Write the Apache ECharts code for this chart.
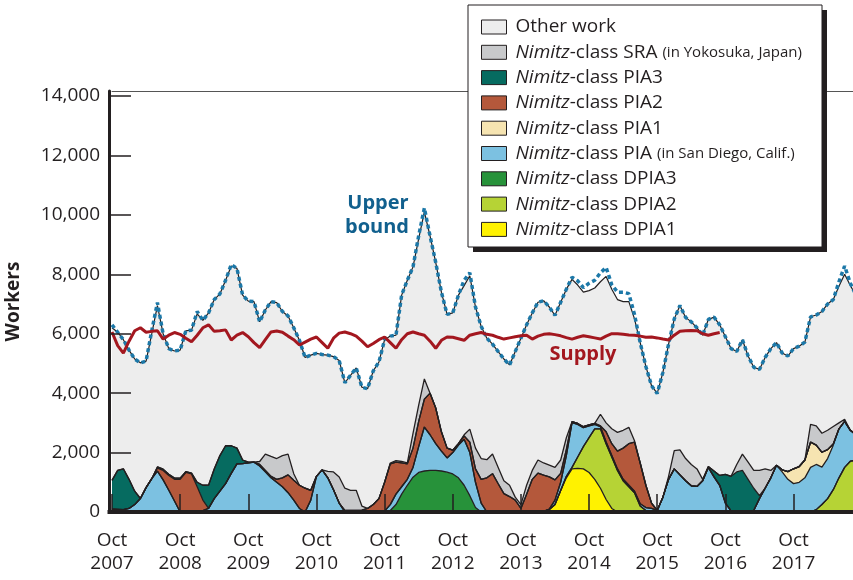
<!DOCTYPE html>
<html><head><meta charset="utf-8">
<script src="https://cdn.jsdelivr.net/npm/echarts@6/dist/echarts.min.js"></script>
<style>html,body{margin:0;padding:0;background:#fff}#c{width:853px;height:580px}</style>
</head><body><div id="c"></div>
<script>
const FONT = '"Open Sans", "Noto Sans", sans-serif';
const INK = '#231f20';

// months Oct 2007 .. Sep 2018 (labels only)
const monthNames = ['Oct','Nov','Dec','Jan','Feb','Mar','Apr','May','Jun','Jul','Aug','Sep'];
const firstFiscalYear = 2007;
const categories = [];
for (let y = 0; y < 11; y++) for (let k = 0; k < 12; k++)
  categories.push(monthNames[k] + ' ' + (firstFiscalYear + y + (k >= 3 ? 1 : 0)));
const yTickValues = [0, 2000, 4000, 6000, 8000, 10000, 12000, 14000];

// total demand (top of "Other work")
const totalDemand = [
6200,6050,5800,5450,5150,5020,5080,6000,6950,6000,5500,5420,
5450,6100,6120,6670,6450,6700,7150,7340,7800,8280,8200,7300,
7100,7080,6400,6800,7080,7050,6750,6600,6200,5780,5200,5280,
5340,5300,5280,5230,5100,4350,4600,4850,4200,4150,4750,5050,
5800,5920,5950,7300,7800,8250,9200,10100,9290,8400,7400,6650,
6700,7300,7620,7950,6900,6250,5850,5650,5400,5150,4950,5400,
5850,6300,6700,7060,7110,6900,6620,7060,7500,7830,7640,7400,
7450,7540,7750,7930,7500,7150,7080,7080,6500,5700,4900,4250,
3990,4700,5650,6500,6950,6550,6400,6200,5950,6480,6560,6300,
5900,5500,5400,5800,5250,4870,4800,5200,5500,5700,5350,5250,
5500,5580,5720,6570,6630,6750,7000,7150,7600,8000,7620,7300];

const upperBound = [
6300,6050,5800,5450,5150,5020,5080,6100,7050,6000,5500,5420,
5450,6100,6120,6750,6450,6700,7150,7340,7800,8330,8200,7300,
7100,7080,6400,6800,7080,7050,6750,6600,6200,5780,5200,5280,
5340,5300,5280,5230,5100,4350,4600,4850,4200,4150,4750,5050,
5800,5920,5950,7300,7800,8250,9300,10230,9290,8400,7400,6650,
6700,7300,7800,8050,6900,6250,5850,5650,5400,5150,4950,5400,
5850,6300,6700,7060,7110,6900,6620,7060,7500,7900,7780,7550,
7700,7800,8050,8230,7650,7400,7400,7350,6650,5700,4900,4250,
3990,4700,5650,6500,6950,6550,6400,6200,5950,6480,6560,6300,
5900,5500,5400,5800,5250,4870,4800,5200,5500,5700,5350,5250,
5500,5580,5720,6570,6630,6750,7000,7150,7750,8280,7700,7300];

const supply = [
6060,5600,5350,5750,6100,6200,6050,6080,6100,5820,5950,6040,
5980,5850,5730,5950,6200,6300,6080,6100,6130,5790,5950,6040,
5900,5700,5530,5800,6060,6090,6050,5920,5800,5620,5720,5820,
5890,5700,5510,5850,6020,6060,6000,5920,5750,5560,5670,5800,
5890,5700,5510,5800,6000,6060,6000,5950,5750,5510,5780,5890,
5880,5830,5780,5950,6000,6040,5980,5950,5880,5820,5860,5900,
5930,5950,5820,5920,5980,6000,5970,5930,5870,5820,5880,5930,
5900,5860,5820,5920,6000,6000,5980,5960,5950,5920,5880,5890,
5860,5820,5790,5950,6080,6100,6110,6100,6000,5950,6000,6040];

const dpia1 = [
0,0,0,0,0,0,0,0,0,0,0,0,
0,0,0,0,0,0,0,0,0,0,0,0,
0,0,0,0,0,0,0,0,0,0,0,0,
0,0,0,0,0,0,0,0,0,0,0,0,
0,0,0,0,0,0,0,0,0,0,0,0,
0,0,0,0,0,0,0,0,0,0,0,0,
0,0,0,0,20,80,250,720,1150,1450,1470,1450,
1330,1100,800,420,120,0,0,0,0,0,0,0,
0,0,0,0,0,0,0,0,0,0,0,0,
0,0,0,0,0,0,0,0,0,0,0,0,
0,0,0,0,0,0,0,0,0,0,0,0];

const dpia2 = [
0,0,0,0,0,0,0,0,0,0,0,0,
0,0,0,0,0,0,0,0,0,0,0,0,
0,0,0,0,0,0,0,0,0,0,0,0,
0,0,0,0,0,0,0,0,0,0,0,0,
0,0,0,0,0,0,0,0,0,0,0,0,
0,0,0,0,0,0,0,0,0,0,0,0,
0,0,0,0,0,0,0,0,50,50,380,750,
1170,1700,2000,1880,1730,1400,1050,850,650,200,50,0,
0,0,0,0,0,0,0,0,0,0,0,0,
0,0,0,0,0,0,0,0,0,0,0,0,
0,0,0,0,80,250,450,750,1150,1500,1710,1740];

const dpia3 = [
0,0,0,0,0,0,0,0,0,0,0,0,
0,0,0,0,0,0,0,0,0,0,0,0,
0,0,0,0,0,0,0,0,0,0,0,0,
0,0,0,0,0,0,0,0,0,0,0,0,
0,50,250,600,900,1170,1330,1380,1400,1400,1380,1340,
1280,1150,900,550,150,0,0,0,0,0,0,0,
0,0,0,0,0,0,0,0,0,0,0,0,
0,0,0,0,0,0,0,0,0,0,0,0,
0,0,0,0,0,0,0,0,0,0,0,0,
0,0,0,0,0,0,0,0,0,0,0,0,
0,0,0,0,0,0,0,0,0,0,0,0];

const piaSanDiego = [
100,90,80,120,250,455,820,1120,1376,1080,730,370,
0,0,0,0,50,122,450,700,955,1300,1620,1630,
1650,1676,1550,1350,1150,1000,850,650,400,120,0,400,
1200,1420,1150,750,300,0,0,0,0,0,0,0,
30,200,350,250,200,330,870,1480,1200,900,670,480,
720,1100,1550,1450,850,300,0,0,0,0,0,0,
0,0,0,0,0,20,150,280,700,1508,1100,640,
400,150,70,60,50,50,50,50,50,80,100,120,
50,500,1100,1450,1250,1050,880,860,1050,1500,1180,900,
300,40,0,0,0,50,450,800,1150,1570,1350,1100,
955,1000,1150,1500,1520,1260,1350,1500,1650,1550,1040,860];

const pia1 = [
0,0,0,0,0,0,0,0,0,0,0,0,
0,0,0,0,0,0,0,0,0,0,0,0,
0,0,0,0,0,0,0,0,0,0,0,0,
0,0,0,0,0,0,0,0,0,0,0,0,
0,0,0,0,0,0,0,0,0,0,0,0,
0,0,0,0,0,0,0,0,0,0,0,0,
0,0,0,0,0,0,0,0,0,0,0,0,
0,0,0,0,0,0,0,0,0,0,0,0,
0,0,0,0,0,0,0,0,0,0,0,0,
0,0,0,0,0,0,0,0,0,0,70,260,
500,530,600,850,650,500,300,40,0,0,0,0];

const pia2 = [
0,0,0,0,0,0,0,0,100,320,500,730,
1100,1330,1280,850,350,0,0,0,0,0,0,0,
0,0,50,50,50,100,300,600,670,780,800,330,
0,0,0,0,0,50,50,50,60,120,250,450,
970,1370,1080,800,520,650,850,940,1400,1200,650,330,
80,50,110,350,450,800,1150,1290,950,620,520,400,
120,600,1100,1310,1220,1080,680,300,200,30,30,30,
30,30,30,340,400,600,1050,1400,1650,1370,750,180,
0,0,0,0,0,0,0,0,0,0,0,0,
0,0,0,0,0,0,0,0,0,0,0,0,
0,0,0,0,0,0,0,0,0,0,0,0];

const pia3 = [
966,1310,1374,980,450,0,0,0,40,40,40,40,
40,30,30,150,500,780,1000,1200,1275,930,530,120,
30,0,0,0,0,0,0,0,0,0,0,0,
0,0,0,0,0,0,0,0,0,0,0,0,
0,0,0,0,0,0,0,0,0,0,0,0,
0,0,0,0,0,0,0,0,0,0,0,0,
0,0,0,0,0,0,0,0,0,0,0,0,
0,0,0,0,0,0,0,0,0,0,0,0,
0,0,0,0,0,0,0,0,0,30,200,330,
970,1160,1350,1400,1100,750,100,0,0,0,0,0,
0,0,0,0,0,0,0,0,0,0,0,0];

const sra = [
0,0,0,0,0,0,0,0,0,0,0,0,
0,0,0,0,0,0,0,0,0,0,0,0,
0,0,100,550,670,700,750,700,220,0,0,0,
0,0,220,600,880,750,680,680,140,0,0,0,
0,30,50,50,30,500,550,680,0,0,0,0,
0,0,40,440,700,700,610,660,550,430,380,100,
130,300,300,440,410,400,420,450,400,0,0,0,
0,0,390,300,500,630,600,550,50,0,0,0,
0,0,100,615,840,750,720,590,50,0,0,0,
0,0,250,550,580,600,850,650,250,0,0,0,
0,0,0,600,650,640,650,590,200,70,0,0];

const legendNames = ['Other work','SRA','PIA3','PIA2','PIA1','PIA','DPIA3','DPIA2','DPIA1'];
const legendRich = {
  'Other work': 'Other work',
  'SRA': '{i|Nimitz}-class SRA {s|(in Yokosuka, Japan)}',
  'PIA3': '{i|Nimitz}-class PIA3',
  'PIA2': '{i|Nimitz}-class PIA2',
  'PIA1': '{i|Nimitz}-class PIA1',
  'PIA': '{i|Nimitz}-class PIA {s|(in San Diego, Calif.)}',
  'DPIA3': '{i|Nimitz}-class DPIA3',
  'DPIA2': '{i|Nimitz}-class DPIA2',
  'DPIA1': '{i|Nimitz}-class DPIA1'
};

function layer(name, data, color) {
  return {
    name, type: 'line', stack: 'work', data, symbol: 'none',
    color, itemStyle: { color },
    lineStyle: { color: INK, width: 1.3 },
    areaStyle: { color, opacity: 1 },
    emphasis: { disabled: true }, z: 3
  };
}

const labelEvery12 = (idx) => idx % 12 === 0;

const chart = echarts.init(document.getElementById('c'), null, { renderer: 'canvas' });
chart.setOption({
  animation: false,
  backgroundColor: '#fff',
  grid: { left: 112, right: -3, top: 91, bottom: 68, outerBoundsMode: 'none', containLabel: false },
  xAxis: [{
    type: 'category', data: categories, boundaryGap: false, z: 10,
    axisLine: { show: true, onZero: false, lineStyle: { color: INK, width: 4 } },
    axisTick: { show: true, inside: true, length: 18, interval: labelEvery12, lineStyle: { color: INK, width: 1.5 } },
    axisLabel: { interval: labelEvery12, formatter: v => v.replace(' ', '\n'),
      color: INK, fontSize: 19, lineHeight: 23, fontFamily: FONT, margin: 17 },
    splitLine: { show: false }
  }, {
    type: 'category', data: categories, boundaryGap: false, position: 'top', z: 10,
    axisLine: { show: true, onZero: false, lineStyle: { color: '#555', width: 1 } },
    axisTick: { show: false }, axisLabel: { show: false }, splitLine: { show: false }
  }],
  yAxis: {
    type: 'value', min: 0, max: 14170, z: 10, offset: 3,
    axisLine: { show: true, onZero: false, lineStyle: { color: INK, width: 3 } },
    axisTick: { show: true, inside: true, length: 22, customValues: yTickValues, lineStyle: { color: INK, width: 1.5 } },
    axisLabel: { customValues: yTickValues, formatter: v => v.toLocaleString('en-US'),
      color: INK, fontSize: 19, fontFamily: FONT, margin: 9 },
    splitLine: { show: false },
    name: 'Workers', nameLocation: 'middle', nameGap: 86,
    nameTextStyle: { fontWeight: 'bold', fontSize: 19, fontFamily: FONT, color: INK }
  },
  legend: {
    data: legendNames, orient: 'vertical', left: 476, top: 12,
    itemWidth: 25, itemHeight: 14, itemGap: 5.3, icon: 'rect', selectedMode: false, z: 60,
    itemStyle: { borderColor: INK, borderWidth: 1 },
    formatter: n => legendRich[n],
    textStyle: {
      fontFamily: FONT, fontSize: 19, color: INK, lineHeight: 20, padding: [0, 0, 0, 4],
      rich: {
        i: { fontStyle: 'italic', fontSize: 19, fontFamily: FONT, color: INK, lineHeight: 20 },
        s: { fontSize: 15, fontFamily: FONT, color: INK, lineHeight: 20 }
      }
    }
  },
  graphic: [
    { type: 'line', z: 11, shape: { x1: 107.5, y1: 512, x2: 113, y2: 512 }, style: { stroke: INK, lineWidth: 4 } },
    { type: 'rect', z: 50, shape: { x: 473, y: 10, width: 354, height: 242 }, style: { fill: INK } },
    { type: 'rect', z: 51, shape: { x: 468, y: 5, width: 354, height: 242 }, style: { fill: '#fff', stroke: INK, lineWidth: 1 } },
    { type: 'text', z: 52, x: 378, y: 203, style: { text: 'Upper', fill: '#11608e', fontSize: 20, fontWeight: 'bold', fontFamily: FONT, textAlign: 'center', textVerticalAlign: 'middle' } },
    { type: 'text', z: 52, x: 377, y: 227, style: { text: 'bound', fill: '#11608e', fontSize: 20, fontWeight: 'bold', fontFamily: FONT, textAlign: 'center', textVerticalAlign: 'middle' } },
    { type: 'text', z: 52, x: 583, y: 354, style: { text: 'Supply', fill: '#a3171f', fontSize: 20, fontWeight: 'bold', fontFamily: FONT, textAlign: 'center', textVerticalAlign: 'middle' } }
  ],
  series: [
    { name: 'Other work', type: 'line', data: totalDemand, symbol: 'none',
      color: '#ededed', itemStyle: { color: '#ededed' },
      lineStyle: { color: INK, width: 1.2 }, areaStyle: { color: '#ededed', opacity: 1 },
      emphasis: { disabled: true }, z: 2 },
    layer('DPIA1', dpia1, '#fff200'),
    layer('DPIA2', dpia2, '#b6d335'),
    layer('DPIA3', dpia3, '#27923a'),
    layer('PIA', piaSanDiego, '#7cc1e1'),
    layer('PIA1', pia1, '#f6e4b1'),
    layer('PIA2', pia2, '#b4583b'),
    layer('PIA3', pia3, '#066b60'),
    layer('SRA', sra, '#c8c9cb'),
    { name: 'Upper bound', type: 'line', data: upperBound, symbol: 'none',
      lineStyle: { color: '#1c78a8', width: 3.5, type: [4, 3], cap: 'butt' },
      emphasis: { disabled: true }, z: 4 },
    { name: 'Supply', type: 'line', data: supply, symbol: 'none',
      lineStyle: { color: '#a3171f', width: 3 },
      emphasis: { disabled: true }, z: 5 }
  ]
});
</script></body></html>
